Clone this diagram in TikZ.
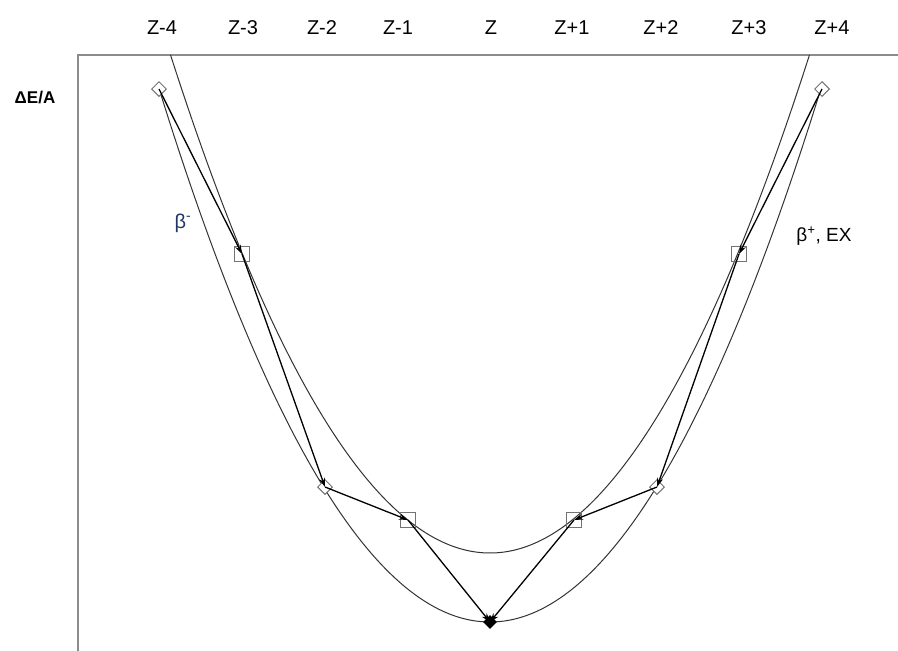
\documentclass[tikz,border=0pt]{standalone}
\usepackage{fontspec}
\setmainfont{Liberation Sans}
\usetikzlibrary{shapes.geometric,arrows.meta}
\definecolor{betablue}{RGB}{30,55,100}
\tikzset{
  lab/.style={font=\fontsize{20}{22}\selectfont, inner sep=0pt},
  dia/.style={diamond, draw=black!55, line width=1pt, minimum size=15pt, inner sep=0pt, fill=white},
  sq/.style={rectangle, draw=black!55, line width=1pt, minimum size=15pt, inner sep=0pt},
  dfill/.style={diamond, fill=black, minimum size=14pt, inner sep=0pt},
  curve/.style={black!80, line width=1pt},
  arr/.style={black, line width=1.3pt, -{Stealth[length=9pt,width=6pt]}},
  frame/.style={black!45, line width=1.8pt},
}
\begin{document}
\begin{tikzpicture}[x=1pt,y=-1pt]
\useasboundingbox (0,0) rectangle (898,651);
% axes
\coordinate (c0) at (78,55);
\coordinate (c1) at (78,651);
\coordinate (c2) at (898,55);
\draw[frame] (c1) -- (c0) -- (c2);
\node[lab, font=\fontsize{17}{20}\selectfont\bfseries] (yl) at (35,98) {ΔE/A};
% column labels
\foreach \n/\x/\t in {a/162/Z-4, b/243/Z-3, c/322/Z-2, d/398/Z-1, e/491/Z, f/572/Z+1, g/661/Z+2, h/749/Z+3, i/832/Z+4}
  \node[lab] (t\n) at (\x,28) {\t};
% parabolas
\draw[curve] plot[domain=-3.31:3.32, samples=120, smooth] ({490+100*\x},{622-48.7*\x*\x});
\draw[curve] plot[domain=-3.195:3.195, samples=120, smooth] ({490+100*\x},{553-48.8*\x*\x});
% nodes
\node[sq] (n3) at (242,254) {};
\node[sq] (n1) at (408,520) {};
\node[sq] (p1) at (574,520) {};
\node[sq] (p3) at (739,254) {};
\node[dia] (n4) at (159,89) {};
\node[dia] (n2) at (325,487) {};
\node[dia] (p2) at (657,487) {};
\node[dia] (p4) at (822,89) {};
\node[dfill] (z) at (490,622) {};
% arrows
\draw[arr] (n4.center) -- (n3.center);
\draw[arr] (n3.center) -- (n2.center);
\draw[arr] (n2.center) -- (n1.center);
\draw[arr] (n1.center) -- (z.center);
\draw[arr] (p4.center) -- (p3.center);
\draw[arr] (p3.center) -- (p2.center);
\draw[arr] (p2.center) -- (p1.center);
\draw[arr] (p1.center) -- (z.center);
% labels
\node[lab, text=betablue, font=\fontsize{20}{22}\selectfont] (bm) at (183,223) {β\textsuperscript{-}};
\node[lab, font=\fontsize{19}{22}\selectfont] (bp) at (824,236) {β\textsuperscript{+}, EX};
\end{tikzpicture}
\end{document}
